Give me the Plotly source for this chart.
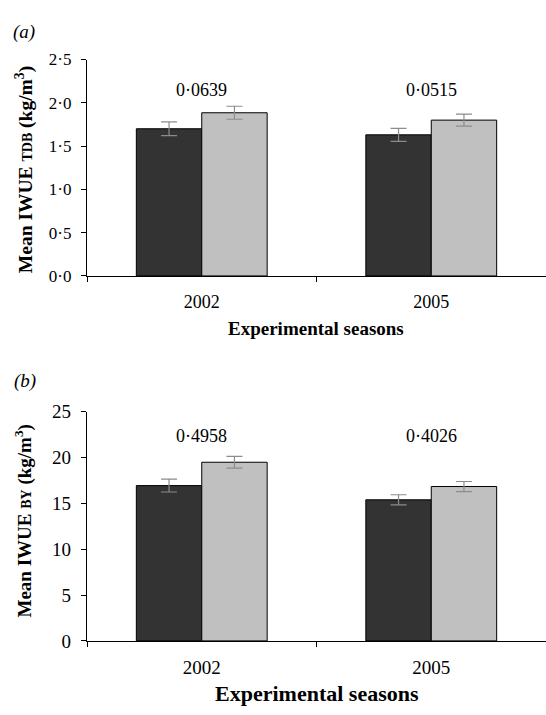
import plotly.graph_objects as go

seasons = ["2002", "2005"]
# Panel (a): Mean IWUE TDB
a_dark = [1.70, 1.63]
a_dark_err = [0.08, 0.075]
a_light = [1.885, 1.80]
a_light_err = [0.075, 0.07]
a_pvals = ["0·0639", "0·0515"]
a_pval_y = [2.15, 2.15]
a_ticks = [0, 0.5, 1.0, 1.5, 2.0, 2.5]
a_ticktext = ["0·0", "0·5", "1·0", "1·5", "2·0", "2·5"]

# Panel (b): Mean IWUE BY
b_dark = [16.95, 15.4]
b_dark_err = [0.7, 0.55]
b_light = [19.5, 16.85]
b_light_err = [0.65, 0.55]
b_pvals = ["0·4958", "0·4026"]
b_pval_y = [22.35, 22.35]
b_ticks = [0, 5, 10, 15, 20, 25]
b_ticktext = ["0", "5", "10", "15", "20", "25"]

FONT = "Liberation Serif"
DARK = "#333333"
LIGHT = "#c0c0c0"
ERR = "#8c8c8c"

W, H = 546, 715

fig = go.Figure()

def add_bars(xa, ya, dark, dark_err, light, light_err):
    fig.add_trace(go.Bar(x=seasons, y=dark, xaxis=xa, yaxis=ya,
                         marker=dict(color=DARK, line=dict(color="black", width=1)),
                         error_y=dict(type="data", array=dark_err, color=ERR, thickness=1.2, width=8),
                         showlegend=False))
    fig.add_trace(go.Bar(x=seasons, y=light, xaxis=xa, yaxis=ya,
                         marker=dict(color=LIGHT, line=dict(color="black", width=1)),
                         error_y=dict(type="data", array=light_err, color=ERR, thickness=1.2, width=8),
                         showlegend=False))

add_bars("x", "y", a_dark, a_dark_err, a_light, a_light_err)
add_bars("x2", "y2", b_dark, b_dark_err, b_light, b_light_err)

x_dom = [87 / W, 1.0]
ya_dom = [1 - 274 / H, 1 - 51 / H]
yb_dom = [1 - 650 / H, 1 - 414 / H]

def xaxis_style(size):
    return dict(type="category", showline=True, linecolor="black", linewidth=1.2, ticks="outside",
                ticklen=5, tickcolor="black", tickson="boundaries", ticklabelstandoff=9,
                tickfont=dict(family=FONT, size=size, color="black"),
                showgrid=False, zeroline=False, range=[-0.5, 1.5], fixedrange=True)

def yaxis_style(size):
    return dict(showline=True, linecolor="black", linewidth=1.2, ticks="outside",
                ticklen=5, tickcolor="black", ticklabelstandoff=6,
                tickfont=dict(family=FONT, size=size, color="black"),
                showgrid=False, zeroline=False, fixedrange=True)

fig.update_layout(
    width=W, height=H,
    margin=dict(l=0, r=0, t=0, b=0),
    paper_bgcolor="white", plot_bgcolor="white",
    barmode="group", bargap=0.43, bargroupgap=0,
    xaxis=dict(domain=x_dom, anchor="y", **xaxis_style(18)),
    yaxis=dict(domain=ya_dom, anchor="x", range=[0, 2.5], tickvals=a_ticks, ticktext=a_ticktext,
               **yaxis_style(17)),
    xaxis2=dict(domain=x_dom, anchor="y2", **xaxis_style(19)),
    yaxis2=dict(domain=yb_dom, anchor="x2", range=[0, 25], tickvals=b_ticks, ticktext=b_ticktext,
                **yaxis_style(19)),
)

annotations = []
for i, (t, yv) in enumerate(zip(a_pvals, a_pval_y)):
    annotations.append(dict(x=i, y=yv, xref="x", yref="y", text=t, showarrow=False,
                            xanchor="center", yanchor="middle",
                            font=dict(family=FONT, size=18, color="black")))
for i, (t, yv) in enumerate(zip(b_pvals, b_pval_y)):
    annotations.append(dict(x=i, y=yv, xref="x2", yref="y2", text=t, showarrow=False,
                            xanchor="center", yanchor="middle",
                            font=dict(family=FONT, size=18, color="black")))

annotations += [
    dict(x=316 / W, y=1 - 328 / H, xref="paper", yref="paper", text="<b>Experimental seasons</b>",
         xanchor="center", yanchor="middle",
         showarrow=False, font=dict(family=FONT, size=19, color="black")),
    dict(x=317 / W, y=1 - 704 / H, xref="paper", yref="paper", text="<b>Experimental seasons</b>",
         xanchor="center", yanchor="middle",
         showarrow=False, font=dict(family=FONT, size=22, color="black")),
    dict(x=24 / W, y=1 - 165 / H, xref="paper", yref="paper", textangle=-90,
         xanchor="center", yanchor="middle",
         text="<b>Mean IWUE <span style='font-size:14px'>TDB</span> (kg/m<sup>3</sup>)</b>",
         showarrow=False, font=dict(family=FONT, size=19.5, color="black")),
    dict(x=24 / W, y=1 - 527 / H, xref="paper", yref="paper", textangle=-90,
         xanchor="center", yanchor="middle",
         text="<b>Mean IWUE <span style='font-size:14px'>BY</span> (kg/m<sup>3</sup>)</b>",
         showarrow=False, font=dict(family=FONT, size=19, color="black")),
    dict(x=11 / W, y=1 - 23 / H, xref="paper", yref="paper", xanchor="left", yanchor="middle",
         text="<i>(a)</i>", showarrow=False, font=dict(family=FONT, size=19, color="black")),
    dict(x=12 / W, y=1 - 382 / H, xref="paper", yref="paper", xanchor="left", yanchor="middle",
         text="<i>(b)</i>", showarrow=False, font=dict(family=FONT, size=19, color="black")),
]
fig.update_layout(annotations=annotations)

fig.write_html("out.html")
